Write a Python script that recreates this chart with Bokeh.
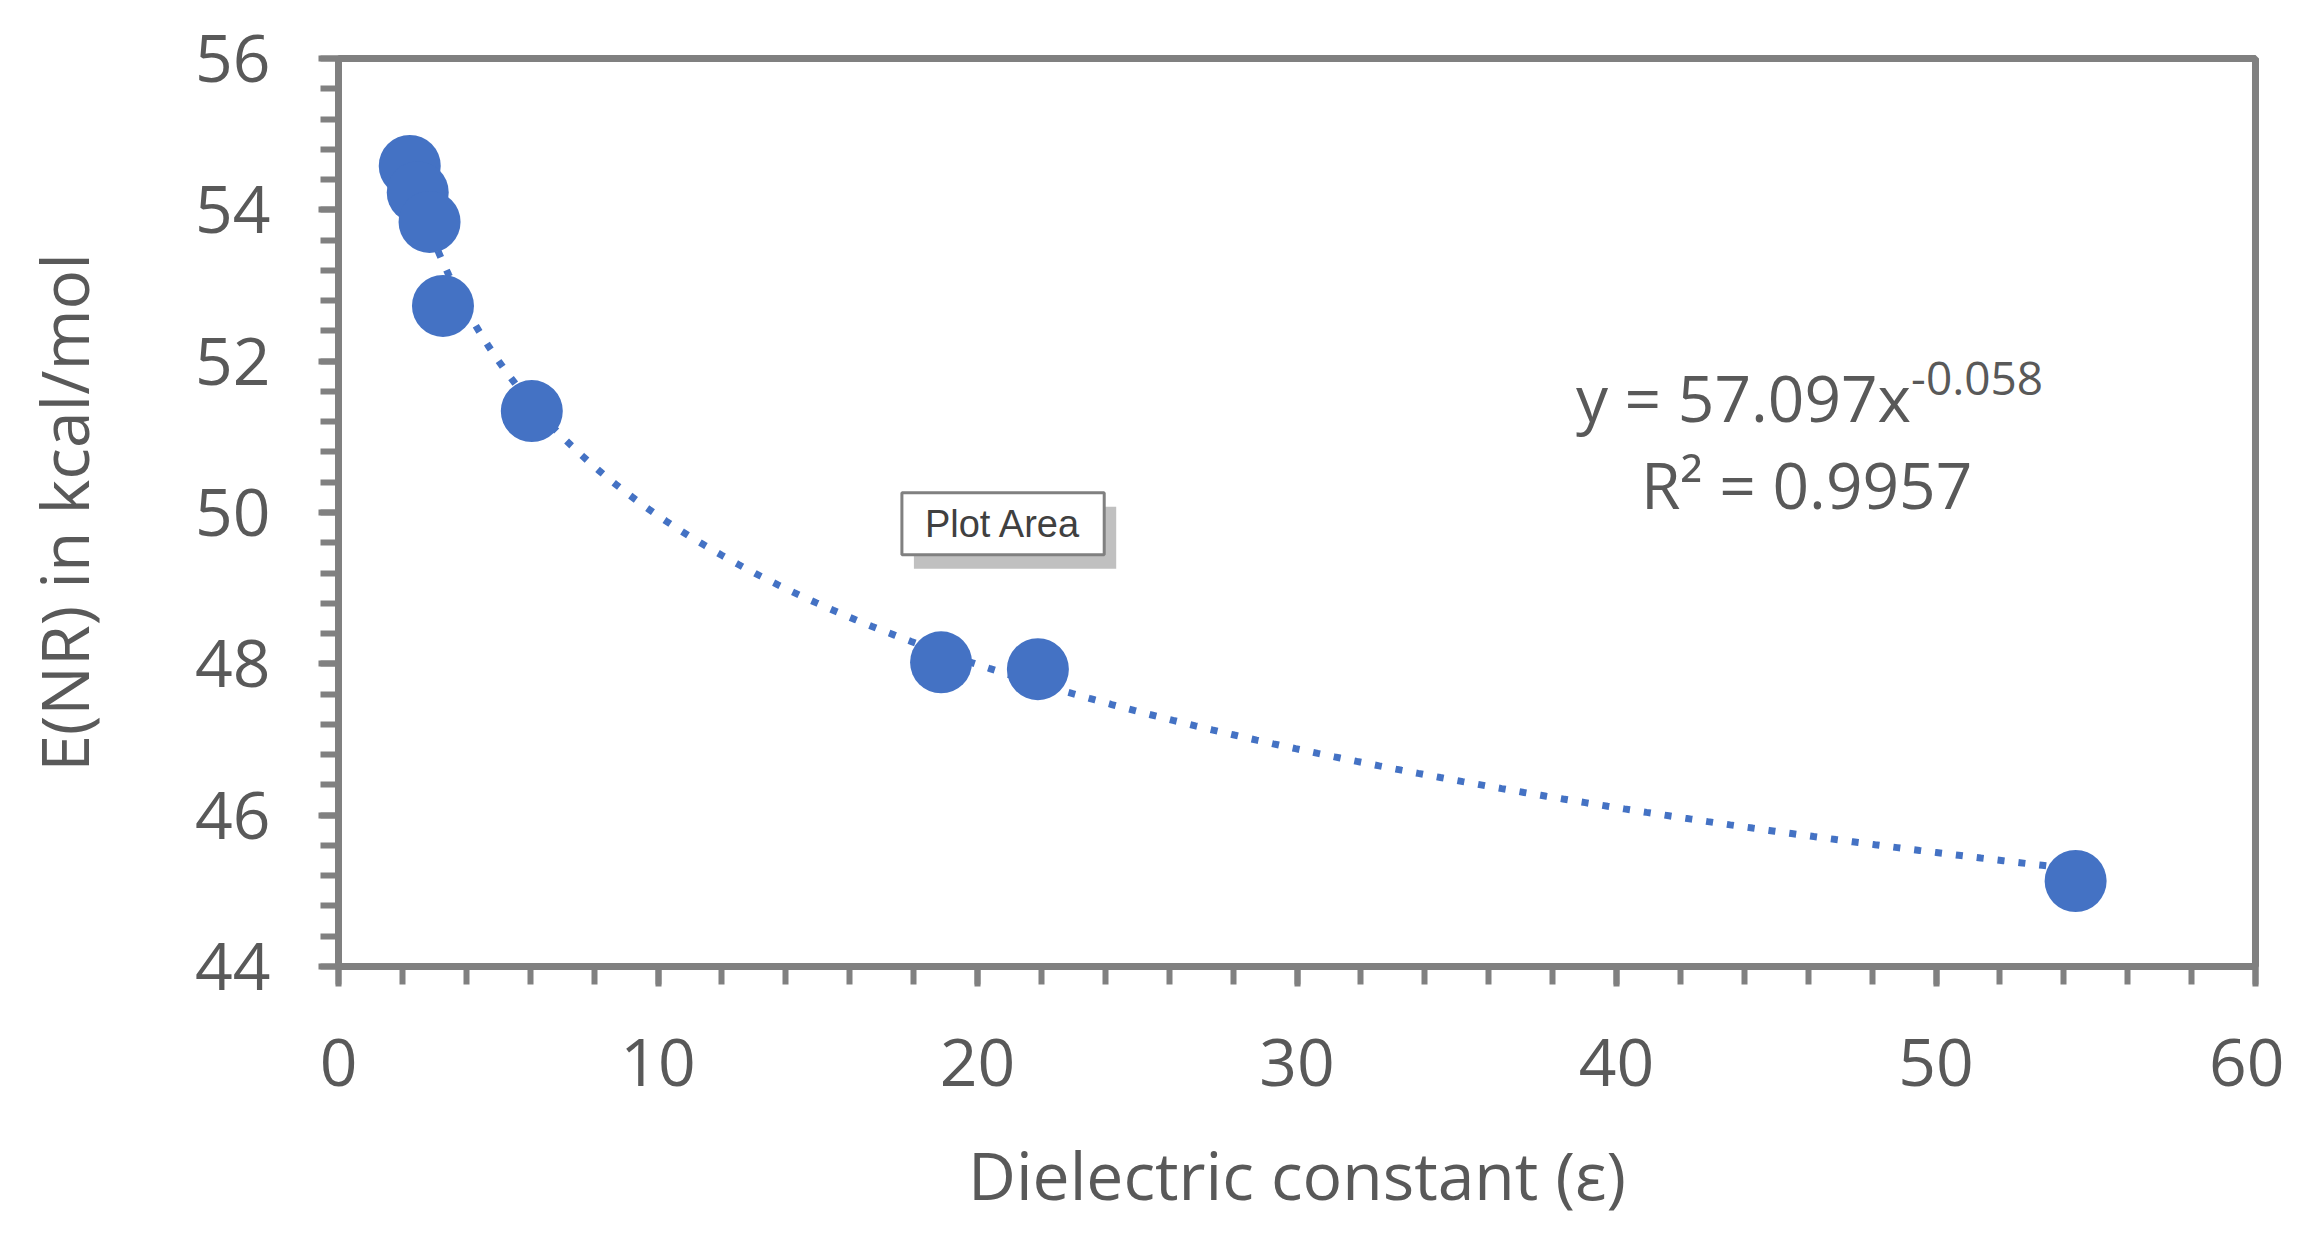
import numpy as np
from bokeh.plotting import figure
from bokeh.models import Range1d, SingleIntervalTicker, Label, ColumnDataSource
from bokeh.embed import file_html
from bokeh.resources import INLINE

# ---- data ----
dielectric = [2.23, 2.48, 2.85, 3.27, 6.05, 18.86, 21.89, 54.37]
energy_nr = [54.58, 54.23, 53.84, 52.73, 51.34, 48.02, 47.93, 45.13]

# power-law trendline stated on the chart: y = A * x^B
trend_A = 57.097
trend_B = -0.058
r_squared = "0.9957"

x_title = "Dielectric constant (ε)"
y_title = "E(NR) in kcal/mol"

TEXT = "#595959"
GREY = "#808080"
BLUE = "#4472C4"
FONT = "Open Sans"

p = figure(width=2284, height=1233, output_backend="svg", toolbar_location=None,
           x_range=Range1d(0, 60), y_range=Range1d(44, 56),
           min_border_left=338, min_border_right=29, min_border_top=58, min_border_bottom=267)
p.background_fill_color = "white"
p.border_fill_color = "white"
p.xgrid.visible = False
p.ygrid.visible = False
p.outline_line_color = GREY
p.outline_line_width = 7

p.xaxis.ticker = SingleIntervalTicker(interval=10, num_minor_ticks=5)
p.yaxis.ticker = SingleIntervalTicker(interval=2, num_minor_ticks=5)

for ax in (p.xaxis[0], p.yaxis[0]):
    ax.axis_line_color = GREY
    ax.axis_line_width = 7
    ax.major_tick_line_color = GREY
    ax.major_tick_line_width = 6
    ax.major_tick_in = 0
    ax.major_tick_out = 20
    ax.minor_tick_line_color = GREY
    ax.minor_tick_line_width = 6
    ax.minor_tick_in = 0
    ax.minor_tick_out = 18
    ax.major_label_text_font = FONT
    ax.major_label_text_font_size = "66px"
    ax.major_label_text_color = TEXT
    ax.axis_label_text_font = FONT
    ax.axis_label_text_font_size = "66px"
    ax.axis_label_text_font_style = "normal"
    ax.axis_label_text_color = TEXT

p.xaxis.axis_label = x_title
p.yaxis.axis_label = y_title
p.xaxis.major_label_standoff = 52
p.yaxis.major_label_standoff = 48
p.xaxis.axis_label_standoff = 40
p.yaxis.axis_label_standoff = 84

# trendline from the stated equation over the data range
xs = np.linspace(min(dielectric), max(dielectric), 300)
ys = trend_A * xs ** trend_B
p.line(xs, ys, line_color=BLUE, line_width=7, line_dash="7 14")

src = ColumnDataSource(dict(x=dielectric, y=energy_nr))
p.scatter("x", "y", source=src, size=62, fill_color=BLUE, line_color=BLUE, line_width=0)

# equation and R^2
p.add_layout(Label(x=49.22, y=51.52, text=f"y = {trend_A}x", text_align="right",
                   text_baseline="alphabetic", text_font=FONT, text_font_size="64px",
                   text_color=TEXT))
p.add_layout(Label(x=49.22, y=51.77, text=f"{trend_B}", text_align="left",
                   text_baseline="alphabetic", text_font=FONT, text_font_size="46px",
                   text_color=TEXT))
p.add_layout(Label(x=45.95, y=50.37, text=f"R² = {r_squared}", text_align="center",
                   text_baseline="alphabetic", text_font=FONT, text_font_size="64px",
                   text_color=TEXT))

# "Plot Area" tooltip box with its shadow
p.add_layout(Label(x=20.80, y=49.85, text="Plot Area", text_align="center",
                   text_baseline="middle", text_font="Liberation Sans", text_font_size="38px",
                   text_color="#c0c0c0", x_offset=12, y_offset=-14, padding=(23, 10),
                   background_fill_color="#c0c0c0", background_fill_alpha=1.0))
p.add_layout(Label(x=20.80, y=49.85, text="Plot Area", text_align="center",
                   text_baseline="middle", text_font="Liberation Sans", text_font_size="38px",
                   text_color="#404040", padding=(23, 10),
                   background_fill_color="white", border_line_color=GREY, border_line_width=3))

open("out.html", "w").write(file_html(p, INLINE))
